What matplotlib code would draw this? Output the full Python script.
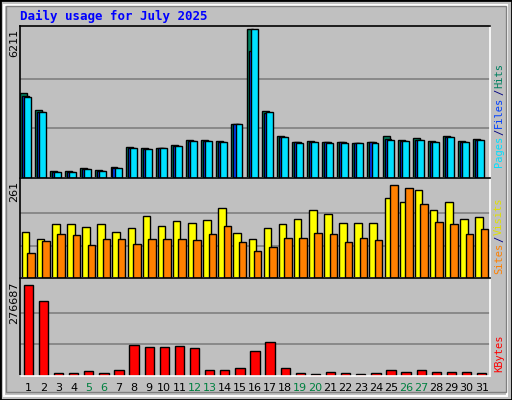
import numpy as np
import matplotlib
matplotlib.use('Agg')
from matplotlib import pyplot as plt
from matplotlib.patches import Rectangle

days = np.arange(1, 32)
weekend = [5, 6, 12, 13, 19, 20, 26, 27]

hits = [3528, 2814, 294, 294, 420, 336, 462, 1302, 1260, 1260, 1386, 1596, 1596, 1554, 2268, 6211,
        2772, 1764, 1512, 1554, 1512, 1512, 1470, 1512, 1764, 1596, 1680, 1554, 1764, 1554, 1638]
files = [3400, 2750, 240, 240, 370, 290, 420, 1260, 1220, 1230, 1340, 1540, 1560, 1500, 2250, 5300,
         2700, 1700, 1480, 1500, 1480, 1480, 1440, 1480, 1620, 1540, 1600, 1500, 1700, 1500, 1600]
pages = [3360, 2730, 230, 230, 360, 280, 410, 1260, 1220, 1230, 1340, 1540, 1550, 1500, 2250, 6211,
         2730, 1700, 1470, 1500, 1470, 1470, 1440, 1470, 1600, 1530, 1580, 1480, 1700, 1480, 1580]
visits = [124, 105, 145, 145, 137, 145, 124, 134, 167, 140, 153, 148, 156, 188, 121, 105,
          134, 145, 159, 183, 172, 148, 148, 148, 215, 204, 237, 183, 204, 159, 164]
sites = [67, 100, 118, 116, 89, 105, 105, 91, 105, 105, 105, 102, 118, 140, 97, 73,
         83, 108, 108, 121, 118, 97, 108, 102, 250, 242, 199, 151, 145, 118, 132]
kbytes = [265000, 217000, 9000, 9000, 15000, 9000, 18000, 89000, 83000, 83000, 86000, 80000, 18000,
          18000, 24000, 74000, 98000, 24000, 9000, 6000, 12000, 9000, 6000, 9000, 18000, 12000, 18000,
          12000, 12000, 12000, 9000]

W, H = 512, 400
BG = '#C0C0C0'
fig = plt.figure(figsize=(W / 100, H / 100), dpi=100, facecolor=BG)


def px_axes(x0, y0, x1, y1):
    ax = fig.add_axes([x0 / W, 1 - y1 / H, (x1 - x0) / W, (y1 - y0) / H])
    ax.set_facecolor(BG)
    ax.spines['top'].set_color('black')
    ax.spines['left'].set_color('black')
    ax.spines['bottom'].set_color('white')
    ax.spines['right'].set_color('white')
    for s in ax.spines.values():
        s.set_linewidth(1.2)
    ax.set_xticks([])
    ax.set_yticks([])
    ax.set_xlim(0.45, 31.55)
    return ax


def grid(ax, top):
    for f in (1 / 3, 2 / 3):
        ax.axhline(top * f, color='#808080', lw=1.2, zorder=0)


def ftext(x, y, s, **kw):
    return fig.text(x / W, 1 - y / H, s, **kw)


# outer frame
fig.patches.append(Rectangle((0, 0), 1, 1, transform=fig.transFigure, fill=False,
                             edgecolor='black', lw=2))
fig.patches.append(Rectangle((4 / W, 4 / H), 1 - 9 / W, 1 - 9 / H, transform=fig.transFigure,
                             fill=False, edgecolor='white', lw=1.5))
fig.patches.append(Rectangle((6 / W, 8 / H), 1 - 12 / W, 1 - 14 / H, transform=fig.transFigure,
                             fill=False, edgecolor='#808080', lw=1))

mono = 'DejaVu Sans Mono'
ftext(20, 16, 'Daily usage for July 2025', color='#0000FF', fontsize=9, fontweight='bold',
      family=mono, va='center')

# hits / files / pages
ax1 = px_axes(20, 26, 490, 178)
top1 = 6211
ax1.set_ylim(0, top1 * 1.02)
grid(ax1, top1)
bw = 0.46
ax1.bar(days - 0.33, hits, bw, color='#00805F', edgecolor='black', lw=1, zorder=2)
ax1.bar(days - 0.2, files, bw, color='#0040FF', edgecolor='black', lw=1, zorder=3)
ax1.bar(days - 0.06, pages, bw, color='#00E0FF', edgecolor='black', lw=1, zorder=4)

# visits / sites
ax2 = px_axes(20, 178, 490, 278)
top2 = 261
ax2.set_ylim(0, top2 * 1.03)
grid(ax2, top2)
ax2.bar(days - 0.18, visits, 0.5, color='#FFFF00', edgecolor='black', lw=1, zorder=2)
ax2.bar(days + 0.18, sites, 0.5, color='#FF8000', edgecolor='black', lw=1, zorder=3)

# kbytes
ax3 = px_axes(20, 278, 490, 376)
top3 = 276687
ax3.set_ylim(0, top3 * 1.03)
grid(ax3, top3)
ax3.bar(days, kbytes, 0.62, color='#FF0000', edgecolor='black', lw=1, zorder=2)

for d in days:
    ftext(20 + (d - 0.45) / 31.1 * 470, 388, str(d), ha='center', va='center', fontsize=8,
          color='#008040' if d in weekend else 'black')

# y max labels
for y, s in ((29, '6211'), (181, '261'), (281, '276687')):
    ftext(14, y, s, rotation=90, ha='center', va='top', fontsize=8, color='black')

renderer = fig.canvas.get_renderer()


def side(y, parts):
    # stack rotated text pieces upward from y (pixels), measuring each piece
    for s, c in parts:
        t = ftext(499, y, s, rotation=90, ha='center', va='bottom', fontsize=7.5,
                  family=mono, color=c)
        y -= t.get_window_extent(renderer).height + 1


side(167, [('Pages', '#00E0FF'), ('/', '#000080'), ('Files', '#0040FF'), ('/', '#000080'),
           ('Hits', '#00805F')])
side(274, [('Sites', '#FF8000'), ('/', '#000080'), ('Visits', '#E0E000')])
side(372, [('KBytes', '#FF0000')])

fig.savefig('out.png', dpi=100, facecolor=BG)
